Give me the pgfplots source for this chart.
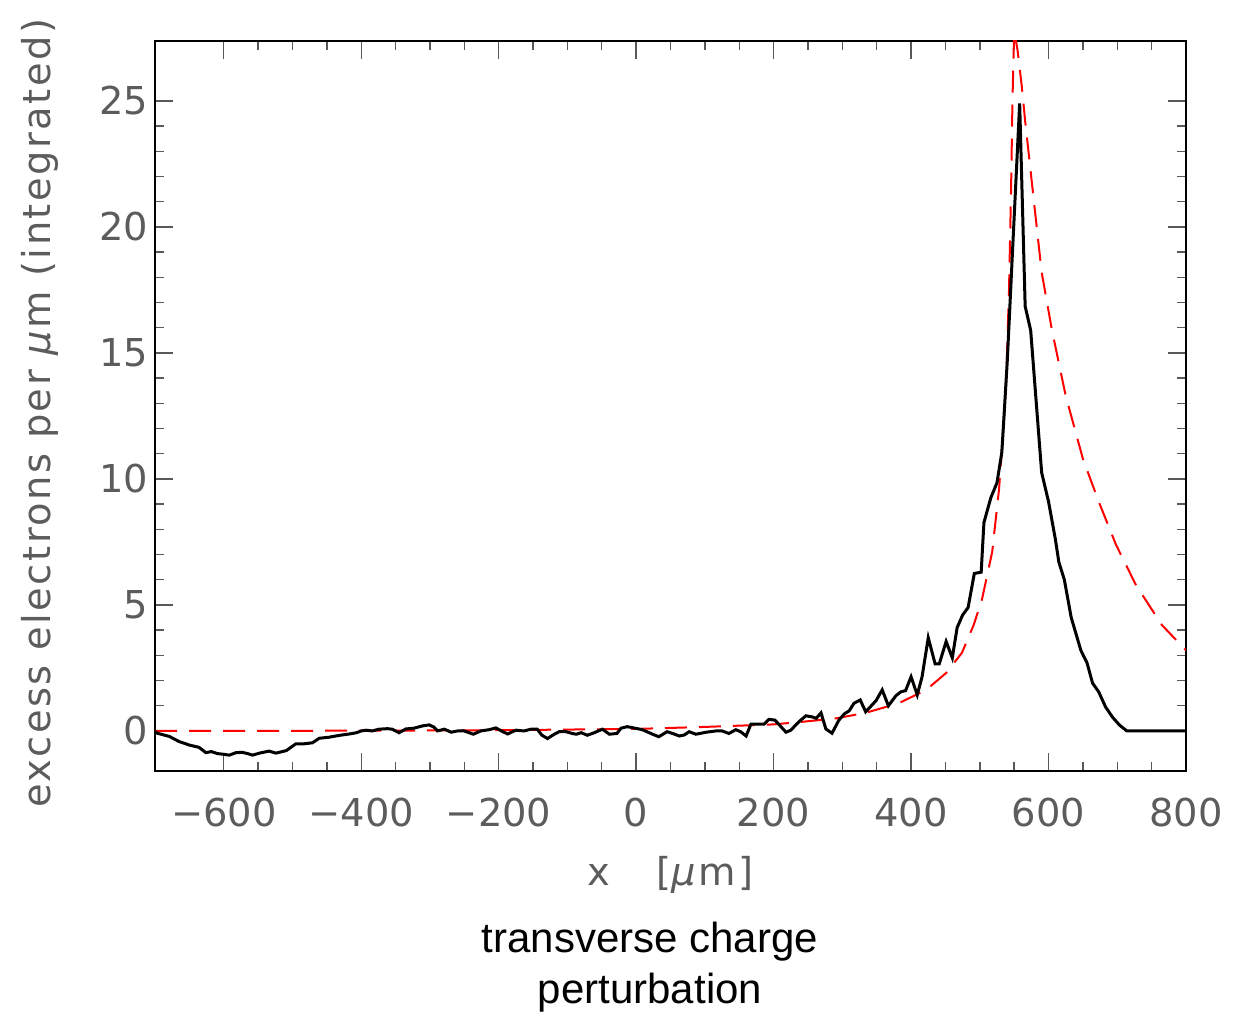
\documentclass[border=0pt]{standalone}
\usepackage{fontspec}
\setmainfont{Liberation Sans}
\newfontfamily\tickfont{DejaVu Sans}
\newfontfamily\labelfont{DejaVu Sans}[LetterSpace=6.5]
\usepackage{pgfplots}
\pgfplotsset{compat=1.18}
\definecolor{lbl}{gray}{0.36}
\definecolor{pred}{RGB}{255,0,0}

\begin{document}
\begin{tikzpicture}
\begin{axis}[
  name=ax, scale only axis, width=515.5pt, height=365pt,
  xmin=-700, xmax=800, ymin=-1.59, ymax=27.38,
  xtick={-600,-400,-200,0,200,400,600,800},
  xticklabels={−600,−400,−200,0,200,400,600,800},
  ytick={0,5,10,15,20,25},
  yticklabels={0,5,10,15,20,25},
  minor x tick num=3, minor y tick num=4,
  tick align=inside, major tick length=9pt, minor tick length=4.5pt,
  tick style={black!65, line width=0.7pt},
  axis line style={line width=0.8pt},
  ticklabel style={font=\tickfont\fontsize{19.2}{20}\selectfont, text=lbl},
  xticklabel style={yshift=-10pt},
  xlabel={x\hspace{1.2em}[\textit{µ}m]},
  ylabel={excess electrons per \textit{µ}m (integrated)},
  label style={font=\labelfont\fontsize{19.2}{20}\selectfont, text=lbl},
  xlabel style={at={(axis description cs:0.5,-0.1425)}, anchor=center},
  ylabel style={at={(axis description cs:-0.1115,0.4904)}, anchor=center},
]
\addplot[pred, line width=1pt, dash pattern=on 11pt off 6pt] coordinates {
(-700,0.0) (-400,0.01) (-200,0.03) (0,0.08) (100,0.16) (200,0.26) (237,0.35)
(291,0.5) (334,0.72) (382,1.1) (422,1.63) (451,2.3) (474,3.1) (491,4.2)
(503,5.2) (518,7.1) (528,9.6) (533,11.5) (538,13.6) (542.5,17.5) (545.5,21.5)
(547.5,25.0) (550,27.8) (555,27.0) (561,25.6) (566,24.2) (572,22.7) (582,20.2)
(590,18.2) (605,15.9) (625,13.3) (650,10.8) (673,9.1) (698,7.4) (727,5.8)
(765,4.2) (800,3.2)
};
\addplot[black, line width=1.5pt] coordinates {
(-700,0.0) (-698,-0.08) (-679,-0.22) (-665,-0.42) (-650,-0.56) (-636,-0.65)
(-626,-0.86) (-618,-0.82) (-609,-0.90) (-602,-0.92) (-592,-0.96) (-582,-0.86)
(-573,-0.85) (-565,-0.90) (-558,-0.96) (-548,-0.88) (-534,-0.80) (-524,-0.88)
(-509,-0.78) (-495,-0.51) (-483,-0.51) (-471,-0.47) (-461,-0.29) (-447,-0.25)
(-437,-0.20) (-428,-0.16) (-417,-0.12) (-407,-0.07) (-400,0.00) (-393,0.03)
(-384,0.00) (-374,0.07) (-362,0.09) (-355,0.07) (-345,-0.07) (-335,0.08)
(-323,0.11) (-311,0.20) (-301,0.24) (-294,0.15) (-289,0.0) (-279,0.07)
(-269,-0.05) (-260,0.0) (-250,0.0) (-237,-0.13) (-226,0.0) (-214,0.05)
(-204,0.12) (-196,0.0) (-187,-0.12) (-175,0.03) (-163,0.0) (-153,0.07)
(-144,0.07) (-137,-0.17) (-129,-0.30) (-119,-0.13) (-112,-0.03) (-102,-0.03)
(-93,-0.10) (-87,-0.13) (-80,-0.07) (-71,-0.17) (-61,-0.07) (-49,0.07)
(-39,-0.13) (-28,-0.10) (-22,0.11) (-13,0.17) (0,0.10) (9,0.05) (23,-0.12)
(33,-0.23) (45,-0.03) (52,-0.09) (63,-0.2) (70,-0.16) (77,-0.03) (87,-0.13)
(102,-0.05) (116,0.0) (125,0.0) (135,-0.1) (145,0.05) (152,-0.03) (160,-0.2)
(167,0.27) (186,0.27) (193,0.46) (202,0.43) (218,-0.05) (225,0.03) (237,0.37)
(247,0.6) (256,0.56) (262,0.5) (269,0.72) (276,0.08) (285,-0.09) (295,0.43)
(303,0.68) (310,0.8) (317,1.1) (326,1.23) (334,0.76) (349,1.2) (358,1.63)
(367,1.0) (378,1.4) (385,1.55) (392,1.6) (400,2.15) (409,1.43) (416,2.15)
(425,3.7) (435,2.66) (441,2.66) (451,3.55) (460,2.9) (467,4.1) (475,4.6)
(483,4.9) (492,6.25) (502,6.3) (506,8.27) (516,9.25) (525,9.85) (532,11.05)
(535,12.4) (540,14.7) (547,18.7) (558,24.9) (566,16.85) (574,15.9) (590,10.25)
(600,9.1) (610,7.6) (615,6.7) (623,6.0) (633,4.5) (647,3.2) (656,2.7)
(664,1.9) (673,1.55) (683,0.95) (693,0.55) (703,0.24) (714,0.0) (800,0.0)
};
\end{axis}
\node[font=\fontsize{21}{25.5}\selectfont, align=center, text=black]
  at ([xshift=-10.25pt, yshift=-98.25pt]ax.south) {transverse charge\\perturbation};
\pgfresetboundingbox
\useasboundingbox ([shift={(-77.5pt,-120.5pt)}]ax.south west) rectangle ([shift={(27.5pt,20.5pt)}]ax.north east);
\end{tikzpicture}
\end{document}
